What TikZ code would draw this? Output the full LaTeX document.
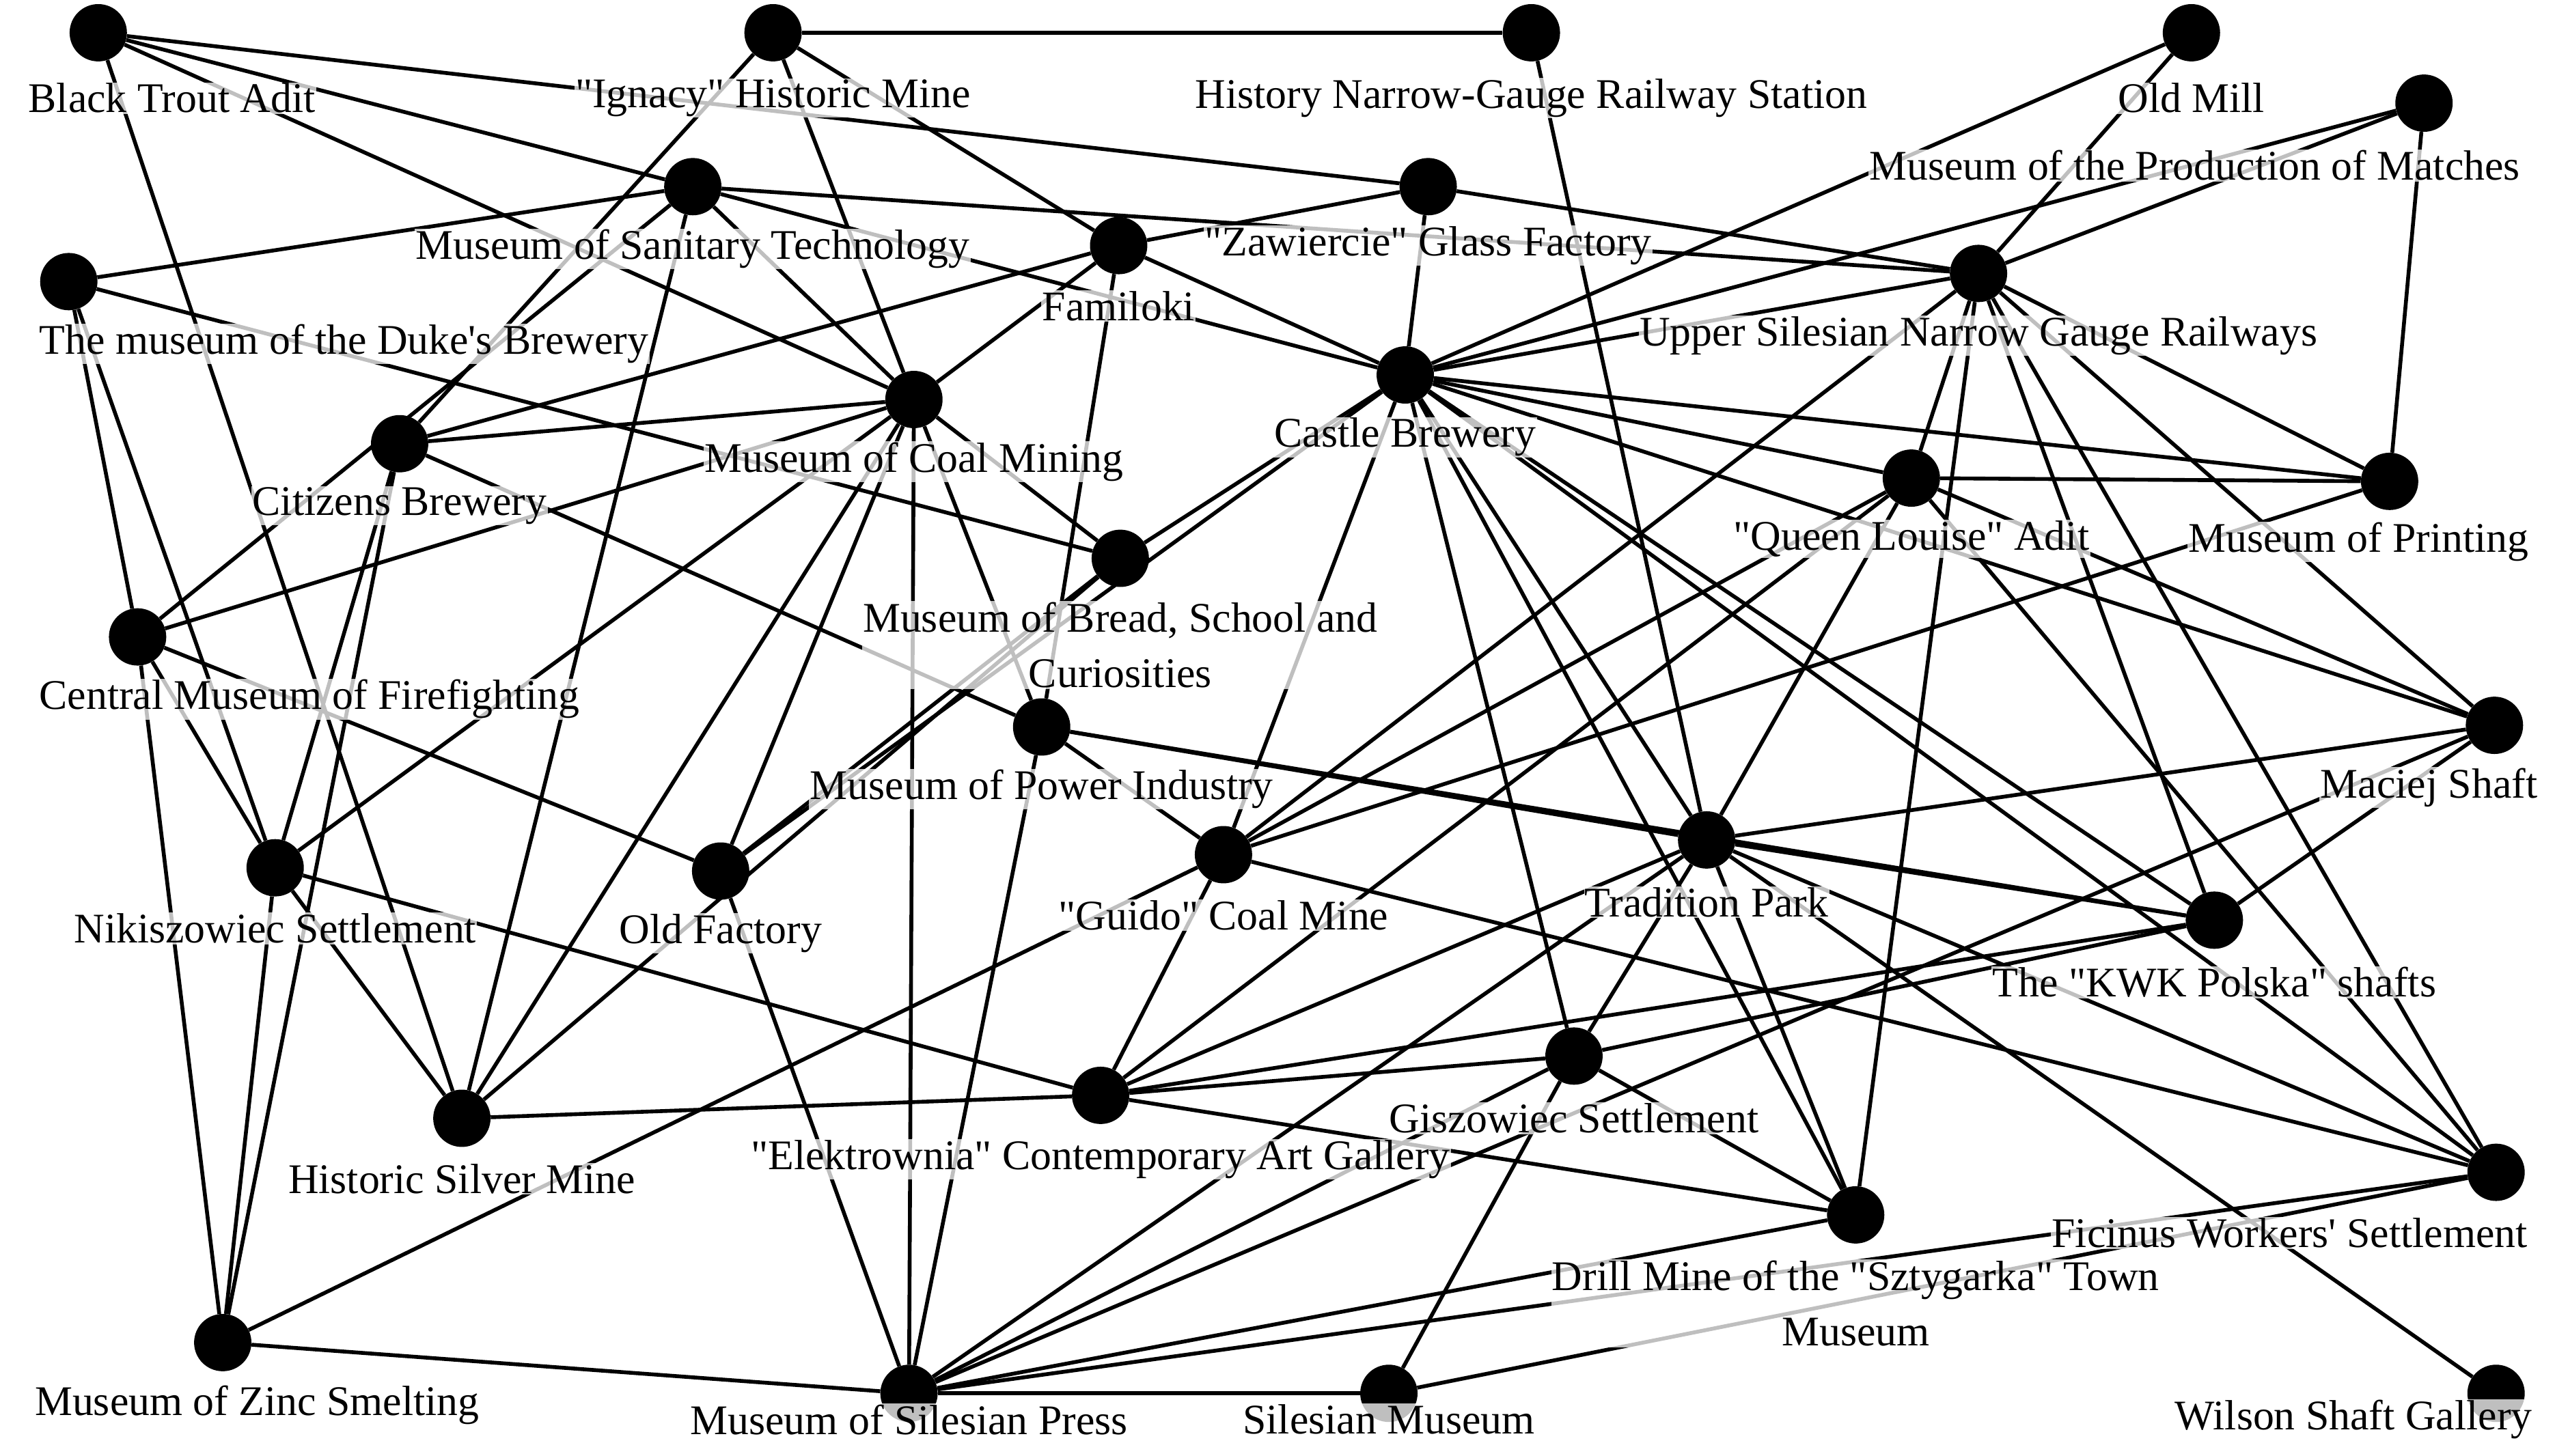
\documentclass[tikz,border=0pt]{standalone}
\usepackage{fontspec}
\setmainfont{Liberation Serif}[Ligatures=TeXOff]
\begin{document}
\begin{tikzpicture}[x=0.06cm,y=-0.06cm,
 dot/.style={circle,fill=black,minimum size=2.1cm,inner sep=0pt},
 e/.style={line width=4pt},
 lab/.style={fill=white,fill opacity=0.75,text opacity=1,inner sep=1pt,font=\fontsize{44}{58}\selectfont}]
\useasboundingbox (0,0) rectangle (1560,889);
\node[dot] (BT) at (60,20) {};
\node[dot] (IG) at (472,20) {};
\node[dot] (HN) at (935,20) {};
\node[dot] (OM) at (1338,20) {};
\node[dot] (MA) at (1480,63) {};
\node[dot] (ST) at (423,114) {};
\node[dot] (GF) at (872,114) {};
\node[dot] (DB) at (42,172) {};
\node[dot] (FA) at (683,150) {};
\node[dot] (UR) at (1208,167) {};
\node[dot] (CB) at (858,229) {};
\node[dot] (CM) at (558,244) {};
\node[dot] (CI) at (244,271) {};
\node[dot] (QL) at (1167,292) {};
\node[dot] (PR) at (1459,294) {};
\node[dot] (BR) at (684,341) {};
\node[dot] (FF) at (84,389) {};
\node[dot] (PI) at (636,444) {};
\node[dot] (MS) at (1523,443) {};
\node[dot] (TP) at (1042,513) {};
\node[dot] (GU) at (747,522) {};
\node[dot] (NI) at (168,530) {};
\node[dot] (OF) at (440,532) {};
\node[dot] (KP) at (1352,562) {};
\node[dot] (GI) at (961,645) {};
\node[dot] (EL) at (672,669) {};
\node[dot] (SM) at (282,683) {};
\node[dot] (FI) at (1524,716) {};
\node[dot] (DM) at (1133,742) {};
\node[dot] (ZI) at (136,820) {};
\node[dot] (SP) at (555,851) {};
\node[dot] (SMu) at (848,851) {};
\node[dot] (WI) at (1524,851) {};
\foreach \a/\b in {BT/GF,GF/UR,BT/ST,BT/CM,BT/SM,IG/HN,IG/CI,IG/CM,IG/FA,
 ST/UR,ST/CB,ST/CM,ST/SM,ST/DB,ST/FF,DB/BR,DB/FF,DB/NI,
 CI/CM,CI/FA,CI/PI,CI/NI,CI/ZI,FF/CM,FF/OF,FF/ZI,FF/NI,
 SM/BR,SM/NI,SM/EL,SM/CM,NI/CM,NI/EL,NI/ZI,ZI/GU,ZI/SP,
 OF/CM,OF/BR,OF/CB,OF/SP,PI/SP,PI/CM,PI/FA,PI/GU,PI/TP,PI/KP,
 GU/EL,GU/CB,GU/UR,GU/QL,GU/PR,GU/FI,EL/QL,EL/TP,EL/GI,EL/KP,EL/DM,
 SP/CM,SP/SMu,SP/TP,SP/MS,SP/FI,SP/GI,SP/DM,SMu/GI,SMu/FI,
 GI/CB,GI/TP,GI/DM,GI/KP,DM/CB,DM/UR,DM/TP,TP/MS,TP/KP,TP/FI,TP/QL,TP/CB,TP/HN,TP/WI,
 KP/UR,KP/MS,KP/CB,FI/CB,FI/QL,FI/UR,MS/CB,MS/UR,MS/QL,QL/UR,QL/PR,QL/CB,
 PR/MA,PR/UR,PR/CB,UR/OM,UR/MA,UR/CB,CB/OM,CB/MA,CB/GF,CB/FA,CB/BR,
 FA/GF,FA/CM,CM/BR}
 \draw[e] (\a) -- (\b);
\node[lab] at (105,60) {Black Trout Adit};
\node[lab] at (472,60) {"Ignacy" Historic Mine};
\node[lab] at (935,60) {History Narrow-Gauge Railway Station};
\node[lab] at (1338,60) {Old Mill};
\node[lab] at (1340,101) {Museum of the Production of Matches};
\node[lab] at (423,152) {Museum of Sanitary Technology};
\node[lab] at (872,150) {"Zawiercie" Glass Factory};
\node[lab] at (210,210) {The museum of the Duke's Brewery};
\node[lab] at (683,187) {Familoki};
\node[lab] at (1208,205) {Upper Silesian Narrow Gauge Railways};
\node[lab] at (858,267) {Castle Brewery};
\node[lab] at (558,282) {Museum of Coal Mining};
\node[lab] at (244,309) {Citizens Brewery};
\node[lab] at (1167,329) {"Queen Louise" Adit};
\node[lab] at (1440,331) {Museum of Printing};
\node[lab,align=center] at (684,394) {Museum of Bread, School and\\Curiosities};
\node[lab] at (1483,481) {Maciej Shaft};
\node[lab] at (189,427) {Central Museum of Firefighting};
\node[lab] at (636,482) {Museum of Power Industry};
\node[lab] at (1042,551) {Tradition Park};
\node[lab] at (747,559) {"Guido" Coal Mine};
\node[lab] at (168,567) {Nikiszowiec Settlement};
\node[lab] at (440,570) {Old Factory};
\node[lab] at (1352,600) {The "KWK Polska" shafts};
\node[lab] at (961,683) {Giszowiec Settlement};
\node[lab] at (672,708) {"Elektrownia" Contemporary Art Gallery};
\node[lab] at (282,720) {Historic Silver Mine};
\node[lab] at (1398,753) {Ficinus Workers' Settlement};
\node[lab,align=center] at (1133,796) {Drill Mine of the "Sztygarka" Town\\Museum};
\node[lab] at (157,858) {Museum of Zinc Smelting};
\node[lab] at (555,867) {Museum of Silesian Press};
\node[lab] at (848,867) {Silesian Museum};
\node[lab] at (1437,867) {Wilson Shaft Gallery};
\end{tikzpicture}
\end{document}
